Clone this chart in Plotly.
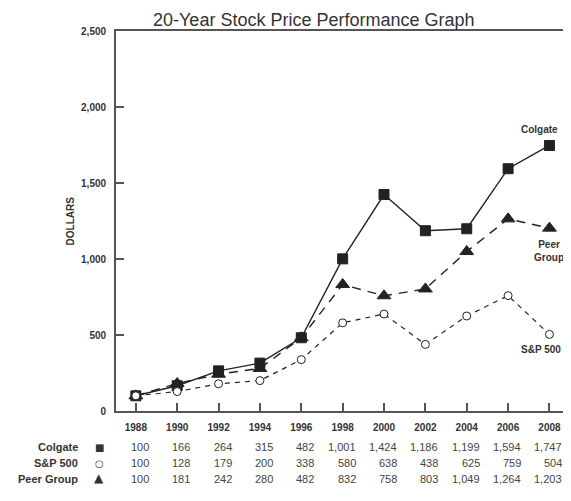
import plotly.graph_objects as go

years = [1988, 1990, 1992, 1994, 1996, 1998, 2000, 2002, 2004, 2006, 2008]
colgate = [100, 166, 264, 315, 482, 1001, 1424, 1186, 1199, 1594, 1747]
sp500 = [100, 128, 179, 200, 338, 580, 638, 438, 625, 759, 504]
peer = [100, 181, 242, 280, 482, 832, 758, 803, 1049, 1264, 1203]
series_names = ["Colgate", "S&P 500", "Peer Group"]
y_ticks = [0, 500, 1000, 1500, 2000, 2500]

line_col = "#222222"
axis_col = "#555555"
txt_col = "#333333"
font_fam = "Liberation Sans, Arial, sans-serif"

fig = go.Figure()
fig.add_trace(go.Scatter(x=years, y=colgate, mode="lines+markers",
                         line=dict(color=line_col, width=1.4),
                         marker=dict(symbol="square", size=10, color=line_col,
                                     line=dict(color=line_col, width=1))))
fig.add_trace(go.Scatter(x=years, y=peer, mode="lines+markers",
                         line=dict(color=line_col, width=1.4, dash="9px,7px"),
                         marker=dict(symbol="triangle-up", size=12, color=line_col,
                                     line=dict(color=line_col, width=1))))
fig.add_trace(go.Scatter(x=years, y=sp500, mode="lines+markers",
                         line=dict(color=line_col, width=1.2, dash="5px,5px"),
                         marker=dict(symbol="circle", size=8, color="white",
                                     line=dict(color=line_col, width=1))))

ann = []
ann.append(dict(x=2007.5, y=1855, text="<b>Colgate</b>", showarrow=False,
                xref="x", yref="y", font=dict(size=10, color=txt_col, family=font_fam)))
ann.append(dict(x=2008, y=1050, text="<b>Peer<br>Group</b>", showarrow=False,
                xref="x", yref="y", font=dict(size=10, color=txt_col, family=font_fam)))
ann.append(dict(x=2007.6, y=405, text="<b>S&P 500</b>", showarrow=False,
                xref="x", yref="y", font=dict(size=10, color=txt_col, family=font_fam)))
ann.append(dict(x=-0.118, y=0.5, xref="paper", yref="paper", text="<b>DOLLARS</b>",
                textangle=-90, showarrow=False,
                font=dict(size=10, color=txt_col, family=font_fam)))

rows = [colgate, sp500, peer]
row_y = [-0.115, -0.157, -0.199]
symbols = ["■", "○", "▲"]
sym_sizes = [10, 10, 12]
for name, vals, yy, sym, ss in zip(series_names, rows, row_y, symbols, sym_sizes):
    ann.append(dict(x=0, y=yy, xref="paper", yref="paper", text="<b>" + name + "</b>",
                    xanchor="right", xshift=-36, showarrow=False,
                    font=dict(size=11, color=txt_col, family=font_fam)))
    ann.append(dict(x=0, y=yy, xref="paper", yref="paper", text=sym,
                    xanchor="center", xshift=-17, showarrow=False,
                    font=dict(size=ss, color=txt_col, family="DejaVu Sans")))
    for yr, v in zip(years, vals):
        ann.append(dict(x=yr, y=yy, xref="x", yref="paper", text=f"{v:,}",
                        xanchor="right", xshift=15, showarrow=False,
                        font=dict(size=11, color="#444444", family=font_fam)))

ann.append(dict(x=0.44, y=1.0, xref="paper", yref="paper", yanchor="top", yshift=23,
                text="20-Year Stock Price Performance Graph", showarrow=False,
                font=dict(size=18, color=txt_col, family=font_fam)))

fig.update_layout(
    width=563, height=493,
    margin=dict(l=108, r=3, t=23, b=90),
    paper_bgcolor="white", plot_bgcolor="white",
    showlegend=False,
    annotations=ann,
    xaxis=dict(range=[1987.04, 2008.8], tickvals=years, ticktext=[str(y) for y in years],
               ticks="inside", ticklen=8, tickwidth=1.5, tickcolor=axis_col,
               showline=True, linecolor=axis_col, linewidth=1.8, mirror=True,
               showgrid=False, zeroline=False, ticklabelstandoff=6,
               tickfont=dict(size=10, color=txt_col, family=font_fam, weight="bold")),
    yaxis=dict(range=[0, 2500], tickvals=y_ticks, ticktext=[f"{v:,}" for v in y_ticks],
               ticks="inside", ticklen=8, tickwidth=1.5, tickcolor=axis_col,
               showline=True, linecolor=axis_col, linewidth=1.8, mirror=True,
               showgrid=False, zeroline=False, ticklabelstandoff=6,
               tickfont=dict(size=10, color=txt_col, family=font_fam, weight="bold")),
)

fig.write_html("out.html")
